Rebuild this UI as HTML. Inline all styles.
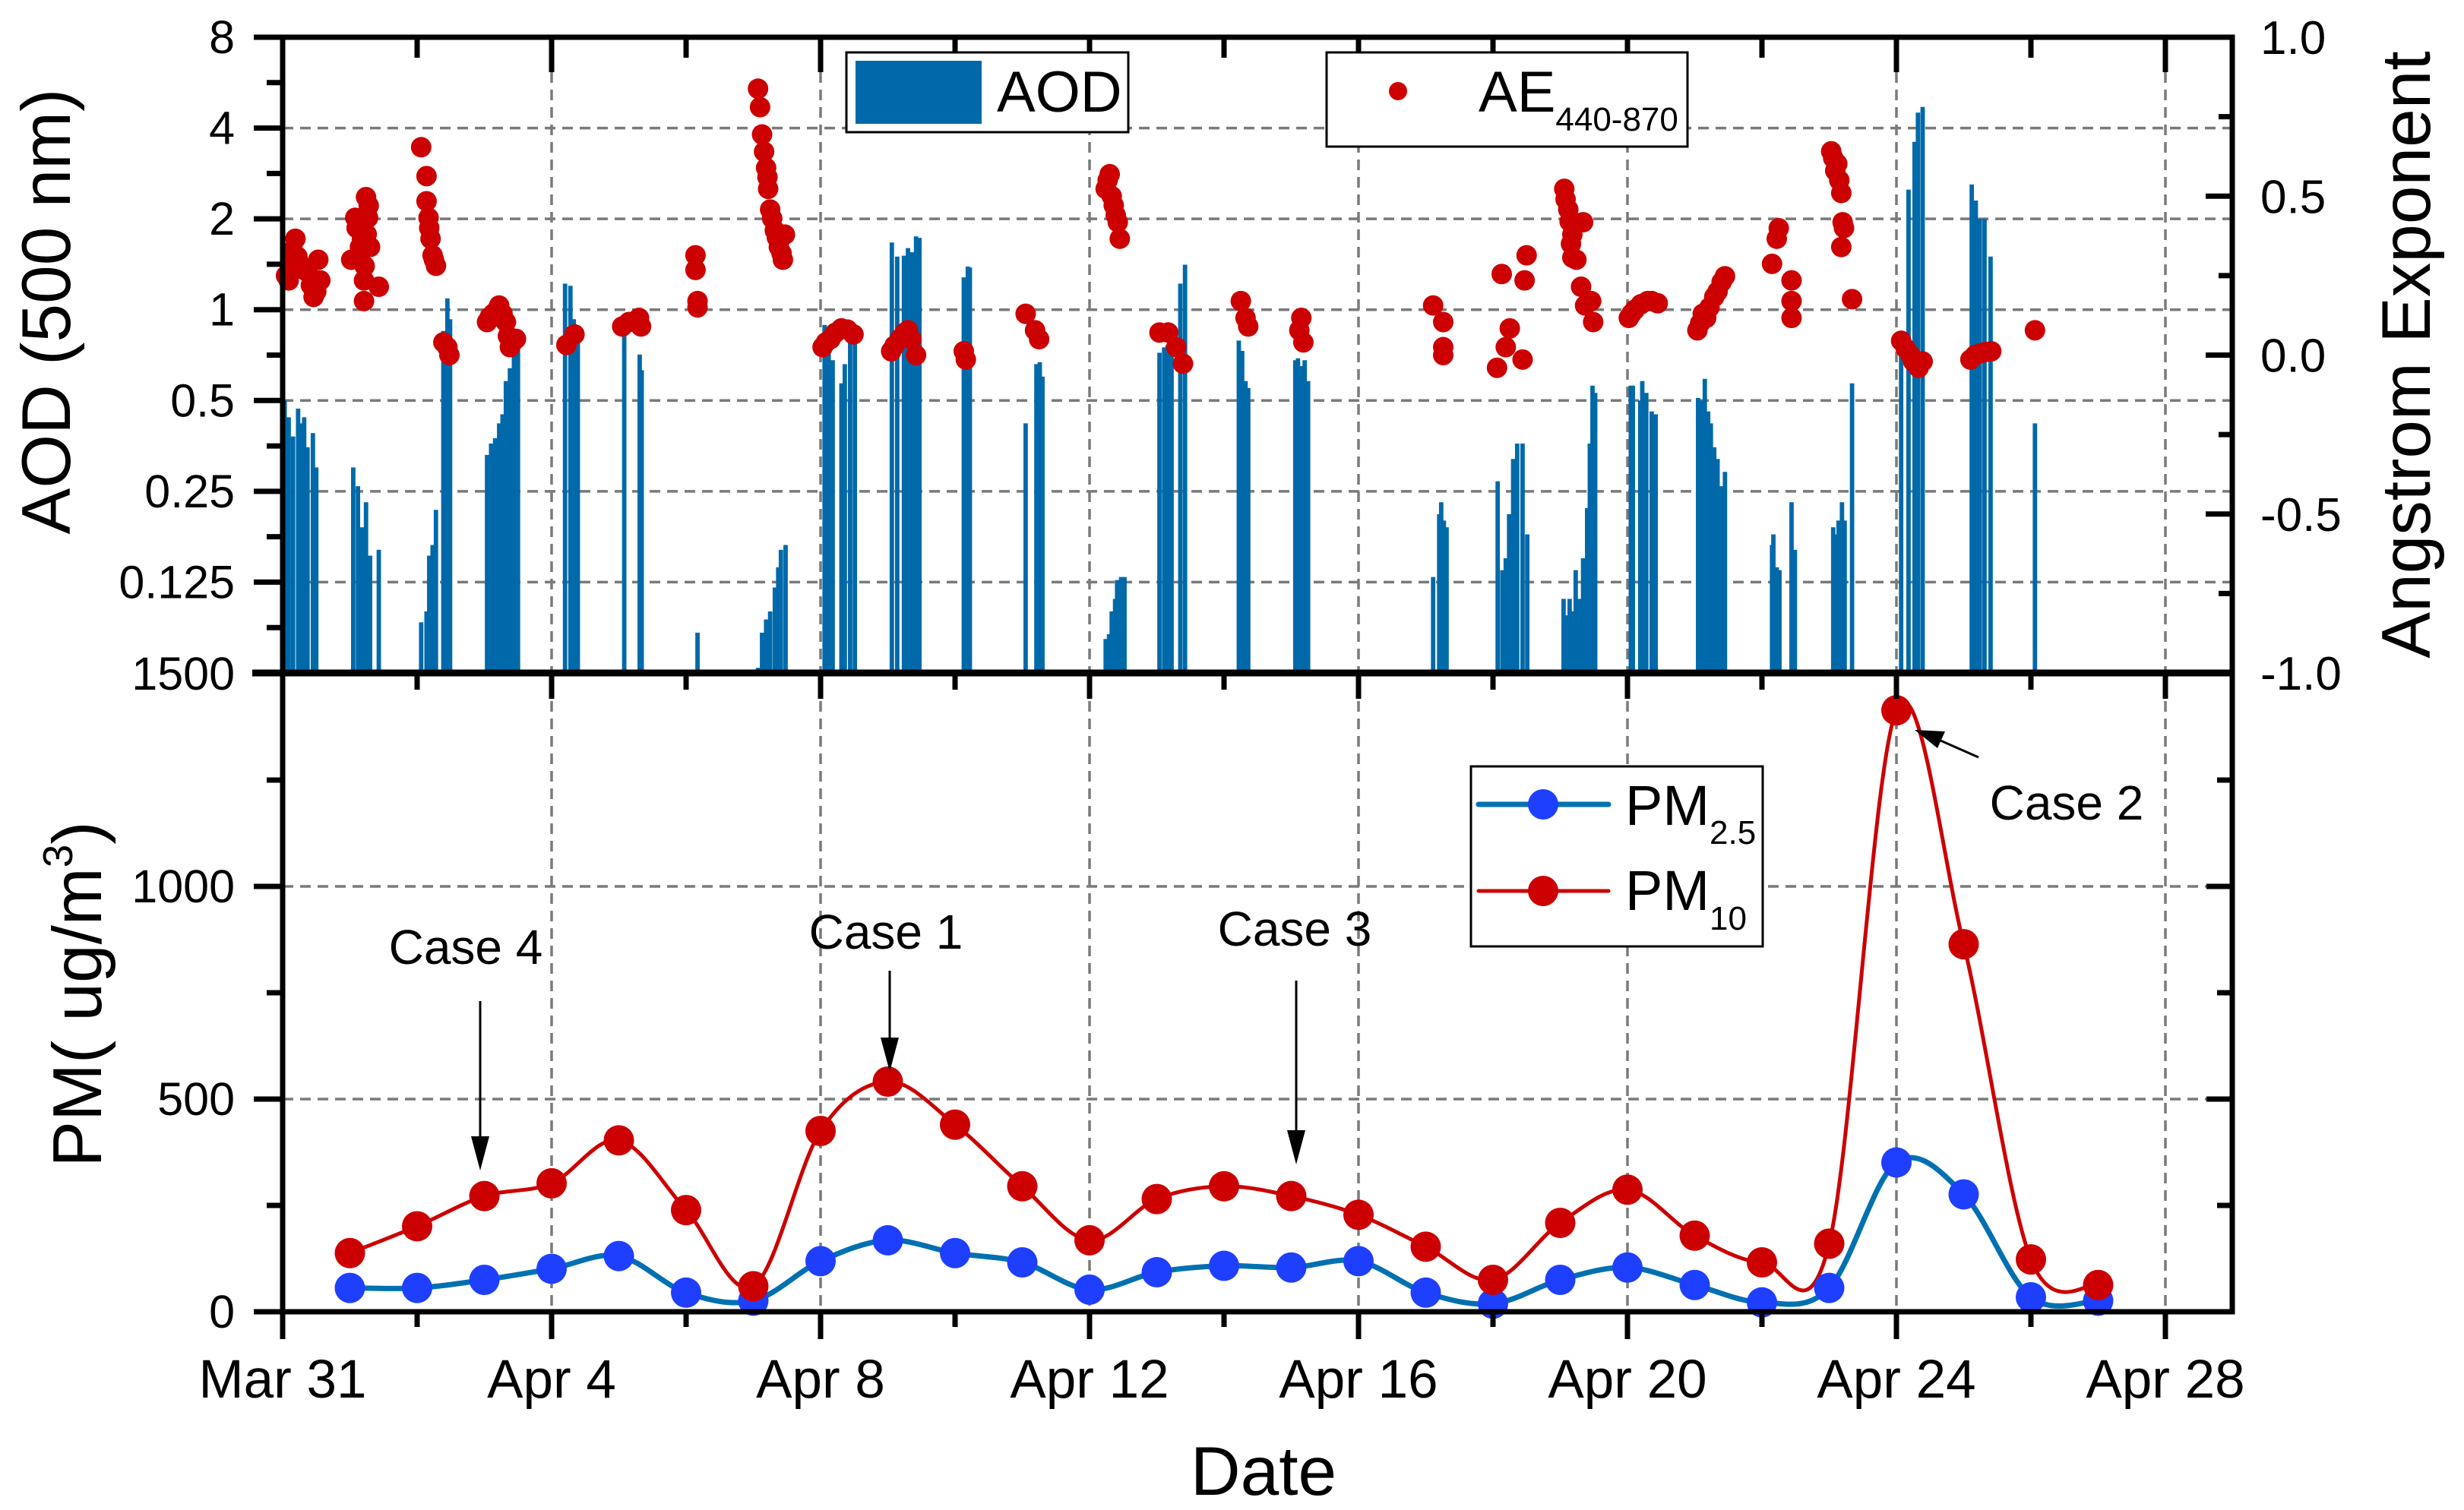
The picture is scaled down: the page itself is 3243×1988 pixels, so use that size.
<!DOCTYPE html>
<html><head><meta charset="utf-8">
<style>
html,body{margin:0;padding:0;background:#fff;}
svg{display:block;font-family:"Liberation Sans",Arial,sans-serif;}
</style></head>
<body>
<svg id="chart" width="3243" height="1988" viewBox="0 0 3243 1988" xmlns="http://www.w3.org/2000/svg">
<rect x="0" y="0" width="3243" height="1988" fill="#fff"/>
<g id="grid"></g>
<g id="bars"></g>
<g id="aepts"></g>
<g id="pm"></g>
<g id="axes"></g>
<g id="labels"></g>

<text transform="translate(92,410) rotate(-90)" text-anchor="middle" font-size="91">AOD (500 nm)</text>
<text transform="translate(133,1309) rotate(-90)" text-anchor="middle" font-size="91">PM( ug/m<tspan font-size="55" dy="-38">3</tspan><tspan dy="38">)</tspan></text>
<text transform="translate(3198,467) rotate(-90)" text-anchor="middle" font-size="91">Angstrom Exponent</text>
<text x="1663" y="1968" text-anchor="middle" font-size="91">Date</text>

<g>
<rect x="1114" y="69" width="371" height="105" fill="#fff" stroke="#000" stroke-width="3"/>
<rect x="1126" y="80" width="166" height="83" fill="#0069aa"/>
<text x="1312" y="147" font-size="76">AOD</text>
</g>
<g>
<rect x="1746" y="69" width="475" height="124" fill="#fff" stroke="#000" stroke-width="3"/>
<circle cx="1840" cy="120" r="12" fill="#cc0000"/>
<text x="1946" y="147" font-size="76">AE<tspan font-size="44" dy="25">440-870</tspan></text>
</g>
<g>
<rect x="1936" y="1009" width="384" height="237" fill="#fff" stroke="#000" stroke-width="3"/>
<line x1="1946" y1="1059" x2="2117" y2="1059" stroke="#0070b0" stroke-width="7" stroke-linecap="round"/>
<circle cx="2031" cy="1059" r="20" fill="#1f3fff"/>
<text x="2139" y="1086" font-size="74">PM<tspan font-size="44" dy="25">2.5</tspan></text>
<line x1="1946" y1="1173" x2="2117" y2="1173" stroke="#cc0000" stroke-width="5" stroke-linecap="round"/>
<circle cx="2031" cy="1173" r="20" fill="#cc0000"/>
<text x="2139" y="1198" font-size="74">PM<tspan font-size="44" dy="26">10</tspan></text>
</g>

<g font-size="64">
<text x="613" y="1269" text-anchor="middle">Case 4</text>
<line x1="632" y1="1318" x2="632" y2="1505" stroke="#000" stroke-width="3"/>
<polygon points="620,1496 644,1496 632,1541" fill="#000"/>
<text x="1166" y="1249" text-anchor="middle">Case 1</text>
<line x1="1171" y1="1278" x2="1171" y2="1375" stroke="#000" stroke-width="3"/>
<polygon points="1159,1366 1183,1366 1171,1411" fill="#000"/>
<text x="1704" y="1245" text-anchor="middle">Case 3</text>
<line x1="1706" y1="1291" x2="1706" y2="1497" stroke="#000" stroke-width="3"/>
<polygon points="1694,1488 1718,1488 1706,1533" fill="#000"/>
<text x="2720" y="1079" text-anchor="middle">Case 2</text>
<line x1="2604" y1="997" x2="2545" y2="971" stroke="#000" stroke-width="3"/>
<polygon points="2520,961 2560,963 2550,985" fill="#000"/>
</g>
</svg>
<script>
// ---- data ----
const aodDays = [0.03,0.09,0.155,0.23,0.28,0.32,0.37,0.45,0.50,
 1.05,1.12,1.18,1.24,1.30,1.43,
 2.06,2.14,2.18,2.23,2.28,2.39,2.45,2.49,
 3.04,3.10,3.16,3.22,3.27,3.32,3.38,3.44,3.50,
 4.20,4.28,4.33,4.39,
 5.08,5.31,5.34,
 6.17,
 7.07,7.13,7.19,7.25,7.32,7.37,7.41,7.48,
 8.06,8.12,8.18,8.31,8.36,8.44,8.51,
 9.06,9.14,9.24,9.30,9.36,9.42,9.47,
 10.13,10.19,10.22,
 11.05,11.21,11.26,11.30,
 12.24,12.29,12.33,12.38,12.41,12.47,12.52,
 13.04,13.11,13.16,13.22,13.35,13.42,
 14.22,14.27,14.32,14.36,
 15.06,15.10,15.15,15.20,15.25,
 17.11,17.20,17.23,17.27,17.31,
 18.07,18.14,18.19,18.24,18.30,18.36,18.44,18.51,
 19.05,19.09,19.14,19.19,19.23,19.29,19.34,19.40,19.44,19.48,19.52,
 20.05,20.08,20.19,20.22,20.28,20.36,20.42,
 21.05,21.10,21.15,21.20,21.24,21.29,21.34,21.40,21.45,
 22.15,22.17,22.22,22.26,22.44,22.49,
 23.06,23.10,23.14,23.19,23.23,23.34,
 24.07,24.18,24.27,24.32,24.39,
 25.12,25.18,25.24,25.31,25.40,
 26.06];
const aodValues = [0.5,0.44,0.38,0.47,0.42,0.44,0.35,0.39,0.30,
 0.30,0.26,0.19,0.23,0.153,0.16,
 0.092,0.10,0.153,0.166,0.217,0.85,1.09,0.93,
 0.33,0.36,0.375,0.42,0.45,0.58,0.64,0.73,0.77,
 1.22,1.2,0.93,0.82,
 0.88,0.71,0.63,
 0.085,
 0.065,0.085,0.094,0.10,0.12,0.14,0.16,0.166,
 0.89,0.82,0.68,0.57,0.66,0.82,0.77,
 1.67,1.5,1.51,1.6,1.55,1.75,1.73,
 1.28,1.39,1.38,
 0.42,0.66,0.67,0.60,
 0.081,0.084,0.10,0.11,0.127,0.13,0.13,
 0.72,0.75,0.76,0.73,1.22,1.41,
 0.79,0.73,0.58,0.55,
 0.68,0.69,0.65,0.68,0.58,
 0.13,0.21,0.23,0.20,0.19,
 0.27,0.137,0.15,0.21,0.32,0.36,0.36,0.18,
 0.11,0.097,0.11,0.10,0.137,0.11,0.15,0.22,0.36,0.56,0.53,
 0.56,0.56,0.50,0.58,0.53,0.46,0.45,
 0.51,0.50,0.59,0.46,0.42,0.35,0.32,0.26,0.29,
 0.166,0.18,0.14,0.137,0.23,0.16,
 0.19,0.18,0.20,0.23,0.20,0.57,
 0.75,2.5,3.6,4.5,4.7,
 2.6,2.3,2.0,2.0,1.5,
 0.42];
const aeDays = [0.09,0.19,0.25,0.37,0.46,0.53,0.56,0.05,0.12,0.15,0.22,0.30,0.42,0.50,
 1.02,1.08,1.18,1.24,1.27,1.30,1.21,1.21,1.43,1.10,1.15,1.22,1.25,1.28,
 2.06,2.14,2.14,2.17,2.20,2.23,2.28,2.18,2.25,
 2.39,2.45,2.48,
 3.04,3.13,3.22,3.32,3.38,3.47,3.08,3.18,3.27,3.35,3.42,
 4.22,4.34,
 5.05,5.15,5.30,5.33,
 6.14,6.14,6.17,6.17,
 7.07,7.13,7.19,7.22,7.25,7.32,7.38,7.44,7.47,7.10,7.16,7.21,7.28,7.35,7.42,
 8.03,8.15,8.31,8.49,8.08,8.22,8.40,
 9.05,9.18,9.30,9.42,9.10,9.25,9.35,
 10.13,10.16,
 11.05,11.19,11.25,
 12.24,12.30,12.36,12.42,12.45,12.27,12.33,12.39,
 13.04,13.17,13.29,13.39,
 14.25,14.32,14.36,
 15.12,15.15,15.18,
 17.11,17.26,17.26,17.26,
 18.06,18.13,18.19,18.25,18.44,18.47,18.50,
 19.06,19.12,19.18,19.18,19.31,19.34,19.37,19.46,19.49,19.08,19.14,19.16,19.24,
 20.02,20.11,20.30,20.45,20.06,20.20,20.36,
 21.04,21.17,21.29,21.45,21.08,21.12,21.22,21.34,21.40,
 22.15,22.22,22.25,22.44,22.44,22.44,
 23.03,23.12,23.18,23.20,23.18,23.34,23.06,23.09,23.15,23.22,
 24.07,24.21,24.33,24.39,24.14,24.25,
 25.10,25.25,25.41,25.17,25.33,
 26.06];
const aeValues = [0.235,0.366,0.287,0.261,0.183,0.30,0.235,0.25,0.30,0.33,0.31,0.27,0.22,0.20,
 0.30,0.432,0.366,0.497,0.432,0.34,0.235,0.17,0.215,0.40,0.34,0.28,0.38,0.47,
 0.654,0.563,0.484,0.432,0.366,0.314,0.281,0.40,0.30,
 0.04,0.025,0.0,
 0.104,0.13,0.156,0.104,0.025,0.051,0.12,0.14,0.13,0.06,0.04,
 0.032,0.065,
 0.09,0.104,0.117,0.09,
 0.314,0.268,0.17,0.15,
 0.838,0.694,0.589,0.523,0.458,0.392,0.34,0.30,0.379,0.78,0.64,0.56,0.43,0.37,0.32,
 0.025,0.051,0.084,0.065,0.04,0.07,0.08,
 0.012,0.051,0.078,0.0,0.03,0.07,0.05,
 0.012,-0.014,
 0.13,0.078,0.05,
 0.523,0.569,0.471,0.418,0.366,0.55,0.50,0.44,
 0.071,0.071,0.025,-0.027,
 0.17,0.117,0.09,
 0.078,0.117,0.04,
 0.156,0.104,0.025,0.0,
 -0.04,0.255,0.025,0.084,-0.014,0.235,0.314,
 0.523,0.458,0.379,0.307,0.215,0.418,0.156,0.17,0.104,0.49,0.42,0.35,0.30,
 0.117,0.143,0.17,0.163,0.13,0.16,0.17,
 0.078,0.117,0.183,0.248,0.10,0.13,0.15,0.20,0.23,
 0.287,0.366,0.399,0.235,0.17,0.117,
 0.641,0.602,0.51,0.418,0.34,0.176,0.62,0.58,0.55,0.40,
 0.045,0.0,-0.04,-0.02,0.02,-0.02,
 -0.014,0.006,0.012,0.0,0.01,
 0.078];
const pmDays = [1,2,3,4,5,6,7,8,9,10,11,12,13,14,15,16,17,18,19,20,21,22,23,24,25,26,27];
const pm25 = [56,56,75,101,131,45,26,119,168,138,116,52,93,108,104,119,45,19,75,104,63,22,56,351,276,34,26];
const pm10 = [138,201,272,302,403,239,60,425,541,440,295,168,265,295,272,228,153,75,209,287,179,116,160,1414,864,123,63];
const xTickDays = [0,4,8,12,16,20,24,28];
const xTickLabels = ["Mar 31","Apr 4","Apr 8","Apr 12","Apr 16","Apr 20","Apr 24","Apr 28"];
const aodTicks = [8,4,2,1,0.5,0.25,0.125];
const aodTickLabels = ["8","4","2","1","0.5","0.25","0.125"];
const pmTicks = [0,500,1000,1500];
const pmTickLabels = ["0","500","1000","1500"];
const aeTicks = [1,0.5,0,-0.5,-1];
const aeTickLabels = ["1.0","0.5","0.0","-0.5","-1.0"];

// ---- scales ----
const X0=372, XR=2938, DX=88.5, TOP=49, MID=886, BOT=1727;
const x = d => X0 + d*DX;
const yAOD = v => TOP + (3 - Math.log2(v))*((MID-TOP)/7);
const yAE = a => TOP + (1 - a)*((MID-TOP)/2);
const yPM = p => BOT - p*((BOT-887)/1500);
const NS="http://www.w3.org/2000/svg";
function mk(tag, parent, attrs){const e=document.createElementNS(NS,tag);for(const k in attrs)e.setAttribute(k,attrs[k]);parent.appendChild(e);return e;}

// gridlines
const grid=document.getElementById('grid');
const gs={stroke:"#7a7a7a","stroke-width":3.5,"stroke-dasharray":"14 9"};
xTickDays.slice(1).forEach(d=>{
  const l=mk('line',grid,Object.assign({x1:x(d),x2:x(d),y1:TOP,y2:BOT},gs));
  
  
});
aodTicks.slice(1).forEach(v=>{
  const l=mk('line',grid,Object.assign({x1:X0,x2:XR,y1:yAOD(v),y2:yAOD(v)},gs));
  
  
});
[500,1000].forEach(v=>{
  const l=mk('line',grid,Object.assign({x1:X0,x2:XR,y1:yPM(v),y2:yPM(v)},gs));
  
  
});

// AOD bars
const bars=document.getElementById('bars');
aodDays.forEach((d,i)=>{
  const yt=yAOD(aodValues[i]);
  const r=mk('rect',bars,{x:x(d)-2.9,y:yt,width:5.8,height:MID-yt,fill:"#0069aa"});
  
  
});
// AE points
const aep=document.getElementById('aepts');
aeDays.forEach((d,i)=>{
  const c=mk('circle',aep,{cx:x(d),cy:yAE(aeValues[i]),r:13.5,fill:"#cc0000"});
  
  
});

// PM smooth lines
function smoothPath(xs,ys){
  let p=`M${xs[0]},${ys[0]}`;
  for(let i=0;i<xs.length-1;i++){
    const x0=xs[Math.max(i-1,0)],y0=ys[Math.max(i-1,0)];
    const x1=xs[i],y1=ys[i],x2=xs[i+1],y2=ys[i+1];
    const x3=xs[Math.min(i+2,xs.length-1)],y3=ys[Math.min(i+2,xs.length-1)];
    const c1x=x1+(x2-x0)/6,c1y=y1+(y2-y0)/6,c2x=x2-(x3-x1)/6,c2y=y2-(y3-y1)/6;
    p+=` C${c1x},${c1y} ${c2x},${c2y} ${x2},${y2}`;
  }
  return p;
}
const pmg=document.getElementById('pm');
const xs=pmDays.map(x);
const l25=mk('path',pmg,{d:smoothPath(xs,pm25.map(yPM)),fill:"none",stroke:"#0070b0","stroke-width":7});


const l10=mk('path',pmg,{d:smoothPath(xs,pm10.map(yPM)),fill:"none",stroke:"#cc0000","stroke-width":5});


pmDays.forEach((d,i)=>{
  const c=mk('circle',pmg,{cx:x(d),cy:yPM(pm25[i]),r:20,fill:"#1f3fff"});
  
  
});
pmDays.forEach((d,i)=>{
  const c=mk('circle',pmg,{cx:x(d),cy:yPM(pm10[i]),r:20,fill:"#cc0000"});
  
  
});

// axes
const ax=document.getElementById('axes');
const ls={stroke:"#000","stroke-width":7};
const frame=mk('rect',ax,{x:X0,y:TOP,width:XR-X0,height:BOT-TOP,fill:"none",stroke:"#000","stroke-width":7});


const div=mk('line',ax,Object.assign({x1:X0-40,x2:XR,y1:MID,y2:MID},{stroke:"#000","stroke-width":9}));


function tick(x1,y1,x2,y2){const t=mk('line',ax,Object.assign({x1,y1,x2,y2},ls));}
for(let d=0;d<=28;d+=2){
  const maj=d%4===0, X=x(d);
  tick(X,TOP,X,TOP+(maj?46:27));
  if(d>0){tick(X,MID,X,MID+(maj?34:22));}
  tick(X,BOT,X,BOT+(maj?36:20));
}
for(let k=-4;k<=3;k++){
  tick(X0-38,yAOD(Math.pow(2,k)),X0,yAOD(Math.pow(2,k)));
  if(k<3) tick(X0-21,yAOD(Math.pow(2,k+0.5)),X0,yAOD(Math.pow(2,k+0.5)));
}
for(let a=-1;a<=1.001;a+=0.25){
  const maj=Math.abs(a*2-Math.round(a*2))<1e-6;
  tick(XR-(maj?35:18),yAE(a),XR,yAE(a));
}
for(let p=0;p<=1500;p+=250){
  const maj=p%500===0;
  tick(X0-(maj?38:21),yPM(p),X0,yPM(p));
  tick(XR-(maj?34:20),yPM(p),XR,yPM(p));
}

// tick labels
const lab=document.getElementById('labels');
function txt(s,X,Y,anchor,size,name){const t=mk('text',lab,{x:X,y:Y,"text-anchor":anchor,"font-size":size});t.textContent=s;}
xTickDays.forEach((d,i)=>txt(xTickLabels[i],x(d),1840,'middle',71,'x-tick-label'));
aodTicks.forEach((v,i)=>txt(aodTickLabels[i],309,yAOD(v)+21,'end',61,'aod-tick-label'));
pmTicks.forEach((v,i)=>txt(pmTickLabels[i],309,yPM(v)+21,'end',61,'pm-tick-label'));
aeTicks.forEach((v,i)=>txt(aeTickLabels[i],2975,yAE(v)+22,'start',62,'ae-tick-label'));
</script>
</body></html>
